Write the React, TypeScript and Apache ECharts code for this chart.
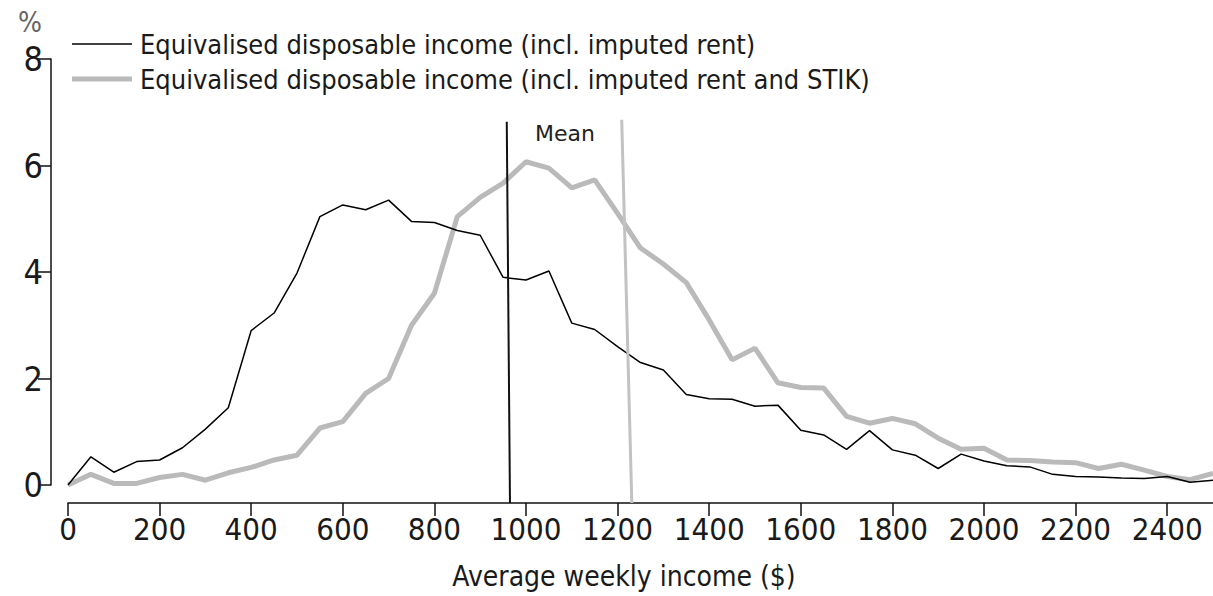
import React, { useEffect, useRef } from "react";
import * as echarts from "echarts";

const incomeBands: number[] = [
  0, 50, 100, 150, 200, 250, 300, 350, 400, 450, 500, 550, 600, 650, 700, 750, 800, 850, 900, 950,
  1000, 1050, 1100, 1150, 1200, 1250, 1300, 1350, 1400, 1450, 1500, 1550, 1600, 1650, 1700, 1750,
  1800, 1850, 1900, 1950, 2000, 2050, 2100, 2150, 2200, 2250, 2300, 2350, 2400, 2450, 2500,
];

const inclRent: number[] = [
  0.0, 0.53, 0.24, 0.44, 0.47, 0.7, 1.05, 1.45, 2.9, 3.23, 3.98, 5.04, 5.26, 5.17, 5.35, 4.95, 4.93,
  4.78, 4.69, 3.9, 3.85, 4.02, 3.04, 2.92, 2.6, 2.3, 2.16, 1.7, 1.62, 1.61, 1.48, 1.5, 1.03, 0.94,
  0.67, 1.02, 0.66, 0.56, 0.31, 0.58, 0.45, 0.36, 0.34, 0.2, 0.16, 0.15, 0.13, 0.12, 0.16, 0.05, 0.09,
];

const inclRentStik: number[] = [
  0.0, 0.2, 0.03, 0.03, 0.14, 0.2, 0.09, 0.23, 0.33, 0.47, 0.56, 1.07, 1.19, 1.72, 2.0, 3.0, 3.6,
  5.04, 5.4, 5.67, 6.07, 5.95, 5.58, 5.73, 5.1, 4.45, 4.15, 3.8, 3.1, 2.35, 2.57, 1.92, 1.83, 1.82,
  1.29, 1.16, 1.25, 1.15, 0.88, 0.67, 0.69, 0.47, 0.46, 0.43, 0.42, 0.31, 0.39, 0.28, 0.16, 0.1, 0.22,
];

const xTicks: number[] = [0, 200, 400, 600, 800, 1000, 1200, 1400, 1600, 1800, 2000, 2200, 2400];

const seriesNames: string[] = [
  "Equivalised disposable income (incl. imputed rent)",
  "Equivalised disposable income (incl. imputed rent and STIK)",
];

// Mean marker lines: [x at top, y at top], [x at bottom, y at bottom]
const meanRent: number[][] = [
  [958, 6.82],
  [965, -0.338],
];
const meanRentStik: number[][] = [
  [1209, 6.86],
  [1231, -0.338],
];

const FONT = "'DejaVu Sans Condensed', 'Liberation Sans', sans-serif";
const BLACK = "#000000";
const GREY = "#bababa";

export default function App() {
  const ref = useRef<HTMLDivElement>(null);

  useEffect(() => {
    if (!ref.current) return;
    const chart = echarts.init(ref.current, undefined, { renderer: "svg" });
    const pairs = (ys: number[]) => incomeBands.map((x, i) => [x, ys[i]]);

    chart.setOption({
      animation: false,
      backgroundColor: "#ffffff",
      textStyle: { fontFamily: FONT },
      grid: [
        { left: 68, right: 0, top: 59, bottom: 93 },
        { left: 51, width: 10, top: 59, height: 426 },
      ],
      xAxis: [
        {
          type: "value",
          gridIndex: 0,
          min: 0,
          max: 2500,
          interval: 200,
          axisLine: { show: true, onZero: false, lineStyle: { color: "#111", width: 1.5 } },
          axisTick: { show: true, length: 13, customValues: xTicks, lineStyle: { color: "#111", width: 1.5 } },
          axisLabel: {
            customValues: xTicks,
            formatter: (v: number) => String(v),
            fontFamily: FONT,
            fontSize: 31,
            color: "#1a1a1a",
            margin: 10,
            hideOverlap: false,
          },
          splitLine: { show: false },
        },
        { type: "value", gridIndex: 1, show: false, min: 0, max: 1 },
      ],
      yAxis: [
        { type: "value", gridIndex: 0, min: -0.338, max: 8, show: false, splitLine: { show: false } },
        {
          type: "value",
          gridIndex: 1,
          min: 0,
          max: 8,
          interval: 2,
          axisLine: { show: true, lineStyle: { color: "#111", width: 1.5 } },
          axisTick: { show: true, length: 13, lineStyle: { color: "#111", width: 1.5 } },
          axisLabel: { fontFamily: FONT, fontSize: 34, color: "#1a1a1a", margin: 8 },
          splitLine: { show: false },
        },
      ],
      series: [
        {
          name: seriesNames[0],
          type: "line",
          xAxisIndex: 0,
          yAxisIndex: 0,
          data: pairs(inclRent),
          symbol: "none",
          z: 4,
          lineStyle: { color: BLACK, width: 1.5 },
          itemStyle: { color: BLACK },
        },
        {
          name: seriesNames[1],
          type: "line",
          xAxisIndex: 0,
          yAxisIndex: 0,
          data: pairs(inclRentStik),
          symbol: "none",
          z: 3,
          lineStyle: { color: GREY, width: 5 },
          itemStyle: { color: GREY },
        },
        {
          name: "Mean (incl. imputed rent)",
          type: "line",
          xAxisIndex: 0,
          yAxisIndex: 0,
          data: meanRent,
          symbol: "none",
          silent: true,
          z: 5,
          lineStyle: { color: "#111111", width: 2 },
        },
        {
          name: "Mean (incl. imputed rent and STIK)",
          type: "line",
          xAxisIndex: 0,
          yAxisIndex: 0,
          data: meanRentStik,
          symbol: "none",
          silent: true,
          z: 5,
          lineStyle: { color: "#c2c2c2", width: 3 },
        },
      ],
      graphic: [
        {
          type: "line",
          shape: { x1: 72, y1: 44, x2: 132, y2: 44 },
          style: { stroke: BLACK, lineWidth: 1.5 },
        },
        {
          type: "text",
          x: 140,
          y: 44,
          style: {
            text: seriesNames[0],
            fontFamily: FONT,
            fontSize: 27,
            fill: "#1a1a1a",
            verticalAlign: "middle",
          },
        },
        {
          type: "line",
          shape: { x1: 72, y1: 79, x2: 132, y2: 79 },
          style: { stroke: GREY, lineWidth: 5 },
        },
        {
          type: "text",
          x: 140,
          y: 79,
          style: {
            text: seriesNames[1],
            fontFamily: FONT,
            fontSize: 27,
            fill: "#1a1a1a",
            verticalAlign: "middle",
          },
        },
        {
          type: "text",
          left: 18,
          top: 8,
          style: { text: "%", fontFamily: FONT, fontSize: 28, fill: "#666" },
        },
        {
          type: "text",
          x: 565,
          y: 133,
          style: {
            text: "Mean",
            fontFamily: "'DejaVu Sans', sans-serif",
            fontSize: 22,
            fill: "#222",
            align: "center",
            verticalAlign: "middle",
          },
        },
        {
          type: "text",
          x: 624,
          y: 576,
          style: {
            text: "Average weekly income ($)",
            fontFamily: FONT,
            fontSize: 28,
            fill: "#1a1a1a",
            align: "center",
            verticalAlign: "middle",
          },
        },
      ],
    });

    return () => chart.dispose();
  }, []);

  return <div ref={ref} style={{ width: 1213, height: 596, position: "absolute", left: 0, top: 0 }} />;
}
